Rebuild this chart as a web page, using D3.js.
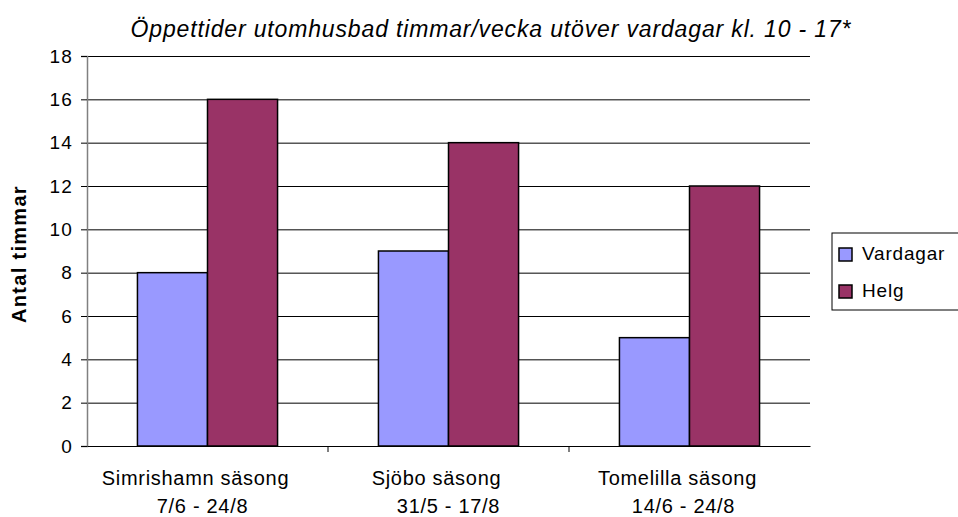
<!DOCTYPE html>
<html>
<head>
<meta charset="utf-8">
<script src="https://cdn.jsdelivr.net/npm/d3@7"></script>
<style>
    body { margin: 0; background: #fff; overflow: hidden; }
    svg { display: block; font-family: Arial, "Liberation Sans", sans-serif; }
</style>
</head>
<body>
<div id="chart"></div>
<script>
const categories = ['Simrishamn säsong', 'Sjöbo säsong', 'Tomelilla säsong'];
const periods = ['7/6 - 24/8', '31/5 - 17/8', '14/6 - 24/8'];
const seriesNames = ['Vardagar', 'Helg'];
const vardagar = [8, 9, 5];
const helg = [16, 14, 12];
const yTicks = [0, 2, 4, 6, 8, 10, 12, 14, 16, 18];
const colors = ['#9999ff', '#993366'];

const width = 958;
const height = 517;
const margin = { top: 56, right: 148, bottom: 71, left: 87 };
// label lines are not quite centred in the original (trailing spaces)
const firstLineShift = -12;
const secondLineShift = [-5, 0, -6];

const svg = d3.select('#chart')
    .append('svg')
    .attr('width', width)
    .attr('height', height);

const xScale = d3.scaleBand()
    .domain(categories)
    .range([margin.left, width - margin.right]);

const xInner = d3.scaleBand()
    .domain(seriesNames)
    .range([0, xScale.bandwidth()])
    .paddingOuter(0.72);

const yScale = d3.scaleLinear()
    .domain([0, 18])
    .range([height - margin.bottom, margin.top]);

// gridlines
svg.append('g')
    .attr('transform', `translate(${margin.left}, 0)`)
    .call(d3.axisLeft(yScale).tickValues(yTicks).tickFormat('')
        .tickSize(-(width - margin.left - margin.right)))
    .call(g => g.select('.domain').remove())
    .call(g => g.selectAll('line').attr('stroke', '#000'));

const rows = categories.map((c, i) => ({ cat: c, values: [vardagar[i], helg[i]] }));

svg.append('g')
    .selectAll('g')
    .data(rows)
    .join('g')
    .attr('transform', d => `translate(${xScale(d.cat)}, 0)`)
    .selectAll('rect')
    .data(d => d.values.map((v, j) => ({ name: seriesNames[j], value: v, j })))
    .join('rect')
    .attr('x', d => xInner(d.name))
    .attr('y', d => yScale(d.value))
    .attr('width', xInner.bandwidth())
    .attr('height', d => yScale(0) - yScale(d.value))
    .attr('fill', d => colors[d.j])
    .attr('stroke', '#000')
    .attr('stroke-width', 1.5);

// y axis
const yAxis = svg.append('g')
    .attr('transform', `translate(${margin.left}, 0)`)
    .call(d3.axisLeft(yScale).tickValues(yTicks).tickSize(6).tickPadding(8));
yAxis.select('.domain').attr('stroke', '#808080').attr('stroke-width', 1.5);
yAxis.selectAll('line').attr('stroke', '#000');
yAxis.selectAll('text').attr('font-size', 19).attr('fill', '#000')
    .attr('letter-spacing', 1.2)
    .attr('font-family', 'Arial, "Liberation Sans", sans-serif');

// x axis
const xAxis = svg.append('g')
    .attr('transform', `translate(0, ${yScale(0)})`)
    .call(d3.axisBottom(xScale).tickSize(0).tickFormat(''));
xAxis.select('.domain').attr('stroke', '#000');
xAxis.selectAll('.sep')
    .data(categories.slice(1))
    .join('line')
    .attr('x1', d => xScale(d)).attr('x2', d => xScale(d))
    .attr('y1', 0).attr('y2', 6)
    .attr('stroke', '#000');

const xLabels = svg.append('g')
    .selectAll('text')
    .data(categories)
    .join('text')
    .attr('text-anchor', 'middle')
    .attr('font-size', 20)
    .attr('letter-spacing', 0.7)
    .attr('y', 485);
xLabels.append('tspan')
    .attr('x', d => xScale(d) + xScale.bandwidth() / 2 + firstLineShift)
    .text(d => d);
xLabels.append('tspan')
    .attr('x', (d, i) => xScale(d) + xScale.bandwidth() / 2 + secondLineShift[i])
    .attr('dy', 28)
    .text((d, i) => periods[i]);

// title
svg.append('text')
    .attr('x', 491)
    .attr('y', 37)
    .attr('text-anchor', 'middle')
    .attr('font-size', 23)
    .attr('font-style', 'italic')
    .attr('letter-spacing', 0.85)
    .text('Öppettider utomhusbad timmar/vecka utöver vardagar kl. 10 - 17*');

// y label
svg.append('text')
    .attr('transform', `translate(26, ${(yScale(0) + yScale(18)) / 2 + 3}) rotate(-90)`)
    .attr('text-anchor', 'middle')
    .attr('font-size', 20)
    .attr('font-weight', 'bold')
    .attr('letter-spacing', 1.3)
    .text('Antal timmar');

// legend
const legend = svg.append('g');
legend.append('rect')
    .attr('x', 832).attr('y', 233)
    .attr('width', 140).attr('height', 77)
    .attr('fill', '#fff')
    .attr('stroke', '#000');
const items = legend.selectAll('g')
    .data(seriesNames)
    .join('g')
    .attr('transform', (d, i) => `translate(839, ${248 + i * 37})`);
items.append('rect')
    .attr('width', 13).attr('height', 13)
    .attr('fill', (d, i) => colors[i])
    .attr('stroke', '#000')
    .attr('stroke-width', 1.5);
items.append('text')
    .attr('x', 23)
    .attr('y', 12)
    .attr('font-size', 19)
    .attr('letter-spacing', 0.8)
    .text(d => d);
</script>
</body>
</html>
